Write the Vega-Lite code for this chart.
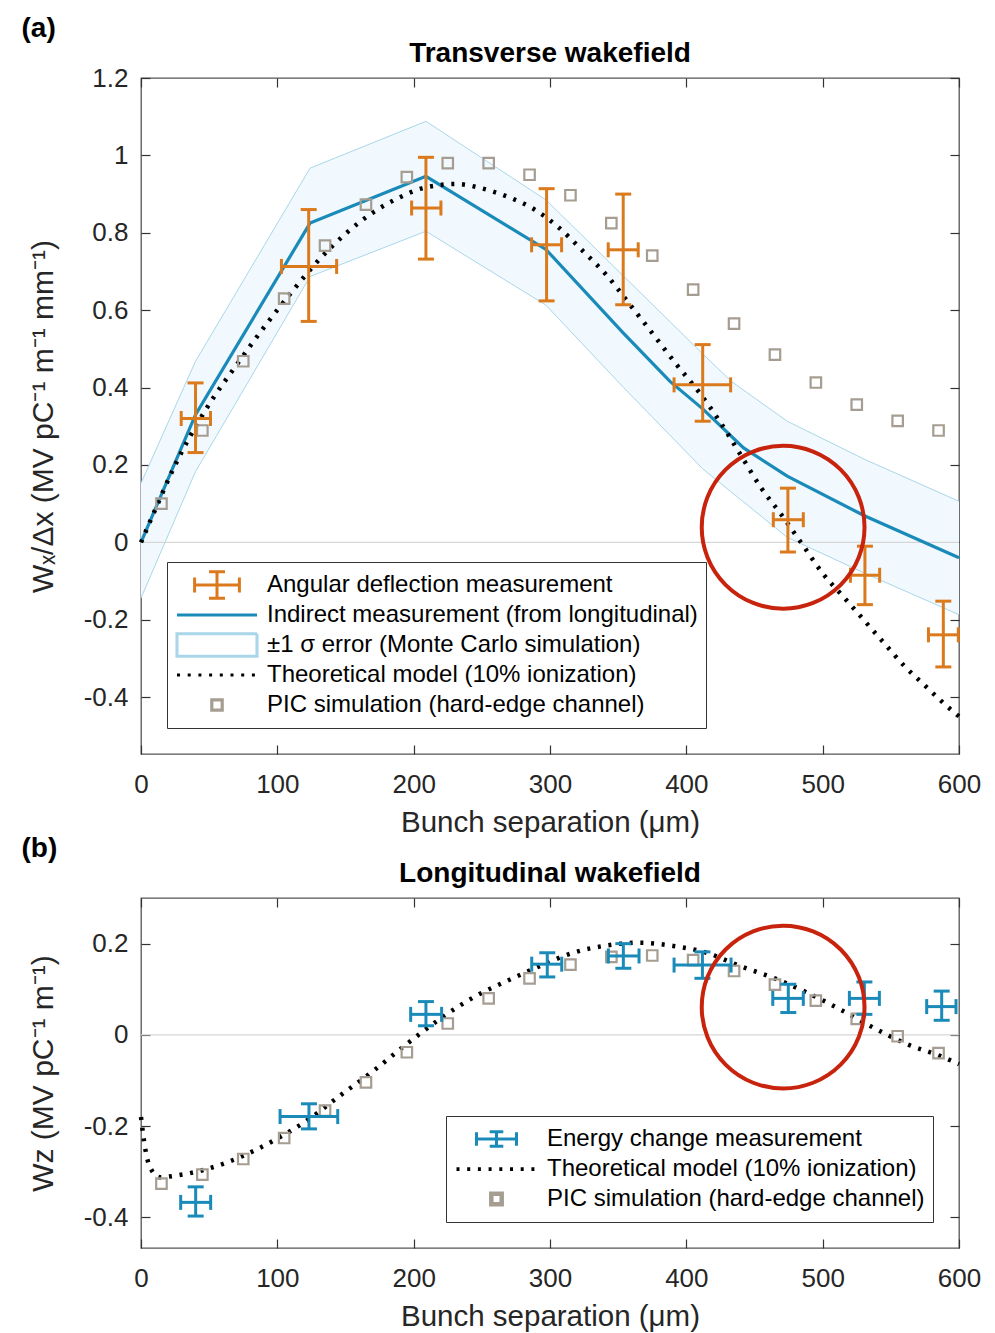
{
 "$schema": "https://vega.github.io/schema/vega-lite/v6.json",
 "autosize": {"type": "pad"},
 "padding": {"left": 21, "top": 15, "right": 10, "bottom": 0},
 "background": "white",
 "config": {
  "font": "Liberation Sans",
  "view": {"stroke": "#555555", "strokeWidth": 1.3},
  "axis": {"domain": false, "grid": false, "ticks": true, "labelFlush": false, "tickColor": "#333333", "tickWidth": 1.2, "tickSize": -9, "labelFont": "Liberation Sans", "labelFontSize": 26, "labelColor": "#262626", "titleFont": "Liberation Sans", "titleFontWeight": "normal", "titleColor": "#262626"},
  "axisX": {"labelPadding": 26, "titleFontSize": 29.5, "titlePadding": 11, "labelFlush": false},
  "axisY": {"labelPadding": 22, "titleFontSize": 30, "titlePadding": 25, "labelFlush": false},
  "title": {"font": "Liberation Sans", "fontSize": 28, "fontWeight": "bold", "color": "#000000"},
  "legend": {"labelFont": "Liberation Sans", "labelFontSize": 24, "labelColor": "#000000", "strokeColor": "#333333", "fillColor": "#ffffff", "padding": 8, "symbolSize": 6400, "clipHeight": 30, "rowPadding": 0, "labelOffset": 8, "symbolOpacity": 1, "labelLimit": 600}
 },
 "datasets": {
  "bandA": [{"x":0,"lo":-0.144,"hi":0.153},{"x":40,"lo":0.183,"hi":0.468},{"x":124,"lo":0.687,"hi":0.967},{"x":209,"lo":0.804,"hi":1.088},{"x":297,"lo":0.613,"hi":0.885},{"x":354,"lo":0.4,"hi":0.688},{"x":412,"lo":0.19,"hi":0.487},{"x":433,"lo":0.13,"hi":0.416},{"x":474,"lo":0.013,"hi":0.313},{"x":531,"lo":-0.08,"hi":0.214},{"x":600,"lo":-0.187,"hi":0.106}],
  "blueA": [{"x":0,"y":0},{"x":40,"y":0.33},{"x":124,"y":0.825},{"x":209,"y":0.946},{"x":297,"y":0.757},{"x":354,"y":0.54},{"x":388,"y":0.416},{"x":412,"y":0.345},{"x":442,"y":0.244},{"x":474,"y":0.171},{"x":531,"y":0.068},{"x":600,"y":-0.04}],
  "theoryA": [{"x":0,"y":0},{"x":7.8,"y":0.063},{"x":23.7,"y":0.19},{"x":48.2,"y":0.347},{"x":70.2,"y":0.459},{"x":92.2,"y":0.565},{"x":111.7,"y":0.652},{"x":131.3,"y":0.733},{"x":150.9,"y":0.8},{"x":170.4,"y":0.853},{"x":190,"y":0.892},{"x":209.5,"y":0.918},{"x":231.5,"y":0.926},{"x":248.7,"y":0.916},{"x":268.2,"y":0.894},{"x":287.8,"y":0.862},{"x":305,"y":0.818},{"x":324.4,"y":0.752},{"x":341.6,"y":0.69},{"x":358.7,"y":0.614},{"x":375.8,"y":0.537},{"x":392.9,"y":0.459},{"x":410,"y":0.385},{"x":425,"y":0.31},{"x":440,"y":0.225},{"x":455,"y":0.14},{"x":470,"y":0.07},{"x":485,"y":-0.005},{"x":500,"y":-0.08},{"x":515,"y":-0.14},{"x":530,"y":-0.2},{"x":545,"y":-0.26},{"x":560,"y":-0.32},{"x":575,"y":-0.37},{"x":590,"y":-0.42},{"x":600,"y":-0.45}],
  "picA": [{"x":15,"y":0.1},{"x":45,"y":0.289},{"x":75,"y":0.468},{"x":105,"y":0.63},{"x":135,"y":0.767},{"x":165,"y":0.873},{"x":195,"y":0.944},{"x":225,"y":0.98},{"x":255,"y":0.98},{"x":285,"y":0.95},{"x":315,"y":0.897},{"x":345,"y":0.825},{"x":375,"y":0.741},{"x":405,"y":0.653},{"x":435,"y":0.565},{"x":465,"y":0.485},{"x":495,"y":0.413},{"x":525,"y":0.356},{"x":555,"y":0.314},{"x":585,"y":0.289}],
  "errA": [{"x":40,"xlo":29.5,"xhi":51,"y":0.32,"ylo":0.232,"yhi":0.412},{"x":123,"xlo":103,"xhi":143.5,"y":0.713,"ylo":0.571,"yhi":0.86},{"x":209,"xlo":198.5,"xhi":220,"y":0.864,"ylo":0.732,"yhi":0.995},{"x":297.5,"xlo":286.5,"xhi":308.5,"y":0.769,"ylo":0.624,"yhi":0.914},{"x":353.7,"xlo":342.7,"xhi":364.7,"y":0.756,"ylo":0.614,"yhi":0.9},{"x":412,"xlo":391,"xhi":432.5,"y":0.407,"ylo":0.313,"yhi":0.511},{"x":474.5,"xlo":463.8,"xhi":485.8,"y":0.0585,"ylo":-0.025,"yhi":0.14},{"x":531,"xlo":520.4,"xhi":541.8,"y":-0.085,"ylo":-0.161,"yhi":-0.01},{"x":588.5,"xlo":577.6,"xhi":599.5,"y":-0.239,"ylo":-0.322,"yhi":-0.152}],
  "circleA": [{"x":471,"y":0.039}],
  "legendA": [{"series":"Angular deflection measurement"},{"series":"Indirect measurement (from longitudinal)"},{"series":"±1 σ error (Monte Carlo simulation)"},{"series":"Theoretical model (10% ionization)"},{"series":"PIC simulation (hard-edge channel)"}],
  "theoryB": [{"x":0,"y":-0.18},{"x":2.9,"y":-0.246},{"x":6.6,"y":-0.29},{"x":13.9,"y":-0.312},{"x":26.2,"y":-0.308},{"x":48.2,"y":-0.294},{"x":72.6,"y":-0.268},{"x":97,"y":-0.232},{"x":121.6,"y":-0.188},{"x":146,"y":-0.133},{"x":170.4,"y":-0.079},{"x":194.9,"y":-0.02},{"x":219.3,"y":0.035},{"x":243.7,"y":0.082},{"x":268.2,"y":0.118},{"x":292.7,"y":0.151},{"x":317.1,"y":0.18},{"x":341.6,"y":0.196},{"x":366,"y":0.202},{"x":390.4,"y":0.195},{"x":414.9,"y":0.18},{"x":439.3,"y":0.151},{"x":463.8,"y":0.125},{"x":488.3,"y":0.093},{"x":512.7,"y":0.056},{"x":537.1,"y":0.016},{"x":561.6,"y":-0.02},{"x":586,"y":-0.046},{"x":600,"y":-0.064}],
  "picB": [{"x":15,"y":-0.326},{"x":45,"y":-0.306},{"x":75,"y":-0.272},{"x":105,"y":-0.226},{"x":135,"y":-0.166},{"x":165,"y":-0.104},{"x":195,"y":-0.038},{"x":225,"y":0.025},{"x":255,"y":0.08},{"x":285,"y":0.124},{"x":315,"y":0.154},{"x":345,"y":0.171},{"x":375,"y":0.174},{"x":405,"y":0.164},{"x":435,"y":0.14},{"x":465,"y":0.11},{"x":495,"y":0.075},{"x":525,"y":0.035},{"x":555,"y":-0.003},{"x":585,"y":-0.04}],
  "errB": [{"x":40.1,"xlo":29.1,"xhi":51.1,"y":-0.367,"ylo":-0.397,"yhi":-0.333},{"x":123.2,"xlo":102,"xhi":144.3,"y":-0.179,"ylo":-0.206,"yhi":-0.151},{"x":209,"xlo":197.8,"xhi":220.5,"y":0.045,"ylo":0.02,"yhi":0.073},{"x":298,"xlo":286.6,"xhi":308.6,"y":0.155,"ylo":0.127,"yhi":0.18},{"x":353.8,"xlo":342.8,"xhi":365.3,"y":0.173,"ylo":0.146,"yhi":0.2},{"x":411.8,"xlo":391,"xhi":432.8,"y":0.153,"ylo":0.124,"yhi":0.182},{"x":474.8,"xlo":463.4,"xhi":485.8,"y":0.08,"ylo":0.049,"yhi":0.111},{"x":530.6,"xlo":519.6,"xhi":541.6,"y":0.08,"ylo":0.045,"yhi":0.116},{"x":587.3,"xlo":576.3,"xhi":597.8,"y":0.062,"ylo":0.032,"yhi":0.096}],
  "circleB": [{"x":471,"y":0.061}],
  "legendB": [{"series":"Energy change measurement"},{"series":"Theoretical model (10% ionization)"},{"series":"PIC simulation (hard-edge channel)"}]
 },
 "spacing": -4,
 "resolve": {"scale": {"color": "independent", "shape": "independent", "strokeWidth": "independent", "strokeDash": "independent"}, "legend": {"color": "independent", "shape": "independent", "strokeWidth": "independent", "strokeDash": "independent"}},
 "vconcat": [
  {
   "title": {"text": "(a)", "anchor": "start", "frame": "bounds", "offset": -4, "dx": -6},
   "resolve": {"scale": {"color": "independent", "shape": "independent", "strokeWidth": "independent", "strokeDash": "independent"}, "legend": {"color": "independent", "shape": "independent", "strokeWidth": "independent", "strokeDash": "independent"}},
   "vconcat": [
    {
     "width": 818, "height": 676,
     "title": {"text": "Transverse wakefield", "anchor": "middle", "frame": "group", "offset": -3},
     "resolve": {"axis": {"x": "independent", "y": "independent"}},
     "layer": [
      {
       "layer": [
        {"data": {"name": "bandA"}, "mark": {"type": "area", "color": "#F2F9FE"},
         "encoding": {
          "x": {"field": "x", "type": "quantitative", "scale": {"domain": [0, 600], "nice": false, "zero": false}, "axis": {"orient": "bottom", "values": [0, 100, 200, 300, 400, 500, 600], "labelFlush": false, "title": "Bunch separation (μm)"}},
          "y": {"field": "lo", "type": "quantitative", "scale": {"domain": [-0.547, 1.2], "nice": false, "zero": false}, "axis": {"orient": "left", "values": [-0.4, -0.2, 0, 0.2, 0.4, 0.6, 0.8, 1, 1.2], "labelFlush": false, "format": "~g", "labelExpr": "replace(datum.label, '\u2212', '-')", "title": "Wₓ/Δx (MV pC⁻¹ m⁻¹ mm⁻¹)"}},
          "y2": {"field": "hi"}}},
        {"data": {"name": "bandA"}, "mark": {"type": "line", "color": "#A9D6E9", "strokeWidth": 1},
         "encoding": {"x": {"field": "x", "type": "quantitative"}, "y": {"field": "hi", "type": "quantitative"}}},
        {"data": {"name": "bandA"}, "mark": {"type": "line", "color": "#A9D6E9", "strokeWidth": 1},
         "encoding": {"x": {"field": "x", "type": "quantitative"}, "y": {"field": "lo", "type": "quantitative"}}},
        {"data": {"values": [{}]}, "mark": {"type": "rule", "color": "#D6D6D6", "strokeWidth": 1.2},
         "encoding": {"y": {"datum": 0, "type": "quantitative"}}},
        {"data": {"name": "blueA"}, "mark": {"type": "line", "color": "#1A8BB9", "strokeWidth": 3.2},
         "encoding": {"x": {"field": "x", "type": "quantitative"}, "y": {"field": "y", "type": "quantitative"}}},
        {"data": {"name": "theoryA"}, "mark": {"type": "line", "color": "#000000", "strokeWidth": 4.5, "strokeDash": [3, 7.7], "strokeCap": "butt", "interpolate": "monotone"},
         "encoding": {"x": {"field": "x", "type": "quantitative"}, "y": {"field": "y", "type": "quantitative"}}},
        {"data": {"name": "picA"}, "mark": {"type": "point", "shape": "square", "filled": false, "color": "#A59D91", "strokeWidth": 2.2, "size": 110, "opacity": 1},
         "encoding": {"x": {"field": "x", "type": "quantitative"}, "y": {"field": "y", "type": "quantitative"}}},
        {"data": {"name": "errA"}, "mark": {"type": "rule", "color": "#DA7A1C", "strokeWidth": 3},
         "encoding": {"x": {"field": "x", "type": "quantitative"}, "y": {"field": "ylo", "type": "quantitative"}, "y2": {"field": "yhi"}}},
        {"data": {"name": "errA"}, "mark": {"type": "rule", "color": "#DA7A1C", "strokeWidth": 3},
         "encoding": {"x": {"field": "xlo", "type": "quantitative"}, "x2": {"field": "xhi"}, "y": {"field": "y", "type": "quantitative"}}},
        {"data": {"name": "errA"}, "mark": {"type": "tick", "orient": "horizontal", "color": "#DA7A1C", "size": 16, "thickness": 3, "opacity": 1},
         "encoding": {"x": {"field": "x", "type": "quantitative"}, "y": {"field": "yhi", "type": "quantitative"}}},
        {"data": {"name": "errA"}, "mark": {"type": "tick", "orient": "horizontal", "color": "#DA7A1C", "size": 16, "thickness": 3, "opacity": 1},
         "encoding": {"x": {"field": "x", "type": "quantitative"}, "y": {"field": "ylo", "type": "quantitative"}}},
        {"data": {"name": "errA"}, "mark": {"type": "tick", "orient": "vertical", "color": "#DA7A1C", "size": 15, "thickness": 3, "opacity": 1},
         "encoding": {"x": {"field": "xlo", "type": "quantitative"}, "y": {"field": "y", "type": "quantitative"}}},
        {"data": {"name": "errA"}, "mark": {"type": "tick", "orient": "vertical", "color": "#DA7A1C", "size": 15, "thickness": 3, "opacity": 1},
         "encoding": {"x": {"field": "xhi", "type": "quantitative"}, "y": {"field": "y", "type": "quantitative"}}},
        {"data": {"name": "circleA"}, "mark": {"type": "point", "shape": "circle", "filled": false, "color": "#C8230C", "strokeWidth": 4, "size": 26500, "opacity": 1},
         "encoding": {"x": {"field": "x", "type": "quantitative"}, "y": {"field": "y", "type": "quantitative"}}},
        {"data": {"name": "legendA"}, "mark": {"type": "point", "filled": false, "opacity": 0, "size": 6400},
         "encoding": {
          "color": {"field": "series", "type": "nominal",
           "scale": {"domain": ["Angular deflection measurement", "Indirect measurement (from longitudinal)", "±1 σ error (Monte Carlo simulation)", "Theoretical model (10% ionization)", "PIC simulation (hard-edge channel)"], "range": ["#DA7A1C", "#1A8BB9", "#A9D6E9", "#000000", "#A59D91"]},
           "legend": {"title": null, "orient": "bottom-left", "offset": 26, "direction": "vertical",
            "encode": {"symbols": {
             "fill": {"condition": {"test": "indexOf(datum.value, 'error') >= 0", "value": "#F0F8FD"}, "value": "transparent"}
            }}}},
          "shape": {"field": "series", "type": "nominal",
           "scale": {"domain": ["Angular deflection measurement", "Indirect measurement (from longitudinal)", "±1 σ error (Monte Carlo simulation)", "Theoretical model (10% ionization)", "PIC simulation (hard-edge channel)"], "range": ["M-0.56,0H0.56M-0.56,-0.19V0.19M0.56,-0.19V0.19M0,-0.33V0.33M-0.2,-0.33H0.2M-0.2,0.33H0.2", "M-1,0H1", "M-1,-0.28H1V0.28H-1Z", "M-1,0H1", "M-0.13,-0.13H0.13V0.13H-0.13Z"]},
           "legend": {"title": null, "orient": "bottom-left", "offset": 26}},
          "strokeWidth": {"field": "series", "type": "nominal",
           "scale": {"domain": ["Angular deflection measurement", "Indirect measurement (from longitudinal)", "±1 σ error (Monte Carlo simulation)", "Theoretical model (10% ionization)", "PIC simulation (hard-edge channel)"], "range": [3, 3.2, 1, 4.5, 2]},
           "legend": {"title": null, "orient": "bottom-left", "offset": 26}},
          "strokeDash": {"field": "series", "type": "nominal",
           "scale": {"domain": ["Angular deflection measurement", "Indirect measurement (from longitudinal)", "±1 σ error (Monte Carlo simulation)", "Theoretical model (10% ionization)", "PIC simulation (hard-edge channel)"], "range": [[1, 0], [1, 0], [1, 0], [3, 7.7], [1, 0]]},
           "legend": {"title": null, "orient": "bottom-left", "offset": 26}}
         }}
       ]
      },
      {"data": {"name": "picA"}, "mark": {"type": "point", "opacity": 0},
       "encoding": {
        "x": {"field": "x", "type": "quantitative", "axis": {"orient": "top", "labels": false, "title": null, "values": [0, 100, 200, 300, 400, 500, 600]}},
        "y": {"field": "y", "type": "quantitative", "axis": {"orient": "right", "labels": false, "title": null, "values": [-0.4, -0.2, 0, 0.2, 0.4, 0.6, 0.8, 1, 1.2]}}}}
     ]
    }
   ]
  },
  {
   "title": {"text": "(b)", "anchor": "start", "frame": "bounds", "offset": -3, "dx": -6},
   "resolve": {"scale": {"color": "independent", "shape": "independent", "strokeWidth": "independent", "strokeDash": "independent"}, "legend": {"color": "independent", "shape": "independent", "strokeWidth": "independent", "strokeDash": "independent"}},
   "vconcat": [
    {
     "width": 818, "height": 350,
     "title": {"text": "Longitudinal wakefield", "anchor": "middle", "frame": "group", "offset": 9},
     "resolve": {"axis": {"x": "independent", "y": "independent"}},
     "layer": [
      {
       "layer": [
        {"data": {"values": [{}]}, "mark": {"type": "rule", "color": "#D6D6D6", "strokeWidth": 1.2},
         "encoding": {
          "y": {"datum": 0, "type": "quantitative", "scale": {"domain": [-0.467, 0.3], "nice": false, "zero": false}, "axis": {"orient": "left", "values": [-0.4, -0.2, 0, 0.2], "labelFlush": false, "format": "~g", "labelExpr": "replace(datum.label, '\u2212', '-')", "title": "Wᴢ (MV pC⁻¹ m⁻¹)"}}}},
        {"data": {"name": "theoryB"}, "mark": {"type": "line", "color": "#000000", "strokeWidth": 4.5, "strokeDash": [3, 7.7], "strokeCap": "butt", "interpolate": "monotone"},
         "encoding": {"x": {"field": "x", "type": "quantitative", "scale": {"domain": [0, 600], "nice": false, "zero": false}, "axis": {"orient": "bottom", "values": [0, 100, 200, 300, 400, 500, 600], "labelFlush": false, "title": "Bunch separation (μm)"}}, "y": {"field": "y", "type": "quantitative"}}},
        {"data": {"name": "picB"}, "mark": {"type": "point", "shape": "square", "filled": false, "color": "#A59D91", "strokeWidth": 2.2, "size": 110, "opacity": 1},
         "encoding": {"x": {"field": "x", "type": "quantitative"}, "y": {"field": "y", "type": "quantitative"}}},
        {"data": {"name": "errB"}, "mark": {"type": "rule", "color": "#1A8BB9", "strokeWidth": 3},
         "encoding": {"x": {"field": "x", "type": "quantitative"}, "y": {"field": "ylo", "type": "quantitative"}, "y2": {"field": "yhi"}}},
        {"data": {"name": "errB"}, "mark": {"type": "rule", "color": "#1A8BB9", "strokeWidth": 3},
         "encoding": {"x": {"field": "xlo", "type": "quantitative"}, "x2": {"field": "xhi"}, "y": {"field": "y", "type": "quantitative"}}},
        {"data": {"name": "errB"}, "mark": {"type": "tick", "orient": "horizontal", "color": "#1A8BB9", "size": 16, "thickness": 3, "opacity": 1},
         "encoding": {"x": {"field": "x", "type": "quantitative"}, "y": {"field": "yhi", "type": "quantitative"}}},
        {"data": {"name": "errB"}, "mark": {"type": "tick", "orient": "horizontal", "color": "#1A8BB9", "size": 16, "thickness": 3, "opacity": 1},
         "encoding": {"x": {"field": "x", "type": "quantitative"}, "y": {"field": "ylo", "type": "quantitative"}}},
        {"data": {"name": "errB"}, "mark": {"type": "tick", "orient": "vertical", "color": "#1A8BB9", "size": 15, "thickness": 3, "opacity": 1},
         "encoding": {"x": {"field": "xlo", "type": "quantitative"}, "y": {"field": "y", "type": "quantitative"}}},
        {"data": {"name": "errB"}, "mark": {"type": "tick", "orient": "vertical", "color": "#1A8BB9", "size": 15, "thickness": 3, "opacity": 1},
         "encoding": {"x": {"field": "xhi", "type": "quantitative"}, "y": {"field": "y", "type": "quantitative"}}},
        {"data": {"name": "circleB"}, "mark": {"type": "point", "shape": "circle", "filled": false, "color": "#C8230C", "strokeWidth": 4, "size": 26500, "opacity": 1},
         "encoding": {"x": {"field": "x", "type": "quantitative"}, "y": {"field": "y", "type": "quantitative"}}},
        {"data": {"name": "legendB"}, "mark": {"type": "point", "filled": false, "opacity": 0, "size": 6400},
         "encoding": {
          "color": {"field": "series", "type": "nominal",
           "scale": {"domain": ["Energy change measurement", "Theoretical model (10% ionization)", "PIC simulation (hard-edge channel)"], "range": ["#1A8BB9", "#000000", "#A59D91"]},
           "legend": {"title": null, "orient": "bottom-right", "offset": 26, "direction": "vertical"}},
          "shape": {"field": "series", "type": "nominal",
           "scale": {"domain": ["Energy change measurement", "Theoretical model (10% ionization)", "PIC simulation (hard-edge channel)"], "range": ["M-0.5,0H0.5M-0.5,-0.17V0.17M0.5,-0.17V0.17M0,-0.18V0.18M-0.17,-0.18H0.17M-0.17,0.18H0.17", "M-1,0H1", "M-0.13,-0.13H0.13V0.13H-0.13Z"]},
           "legend": {"title": null, "orient": "bottom-right", "offset": 26}},
          "strokeWidth": {"field": "series", "type": "nominal",
           "scale": {"domain": ["Energy change measurement", "Theoretical model (10% ionization)", "PIC simulation (hard-edge channel)"], "range": [3, 4.5, 2]},
           "legend": {"title": null, "orient": "bottom-right", "offset": 26}},
          "strokeDash": {"field": "series", "type": "nominal",
           "scale": {"domain": ["Energy change measurement", "Theoretical model (10% ionization)", "PIC simulation (hard-edge channel)"], "range": [[1, 0], [3, 7.7], [1, 0]]},
           "legend": {"title": null, "orient": "bottom-right", "offset": 26}}
         }}
       ]
      },
      {"data": {"name": "picB"}, "mark": {"type": "point", "opacity": 0},
       "encoding": {
        "x": {"field": "x", "type": "quantitative", "axis": {"orient": "top", "labels": false, "title": null, "values": [0, 100, 200, 300, 400, 500, 600]}},
        "y": {"field": "y", "type": "quantitative", "axis": {"orient": "right", "labels": false, "title": null, "values": [-0.4, -0.2, 0, 0.2]}}}}
     ]
    }
   ]
  }
 ]
}
